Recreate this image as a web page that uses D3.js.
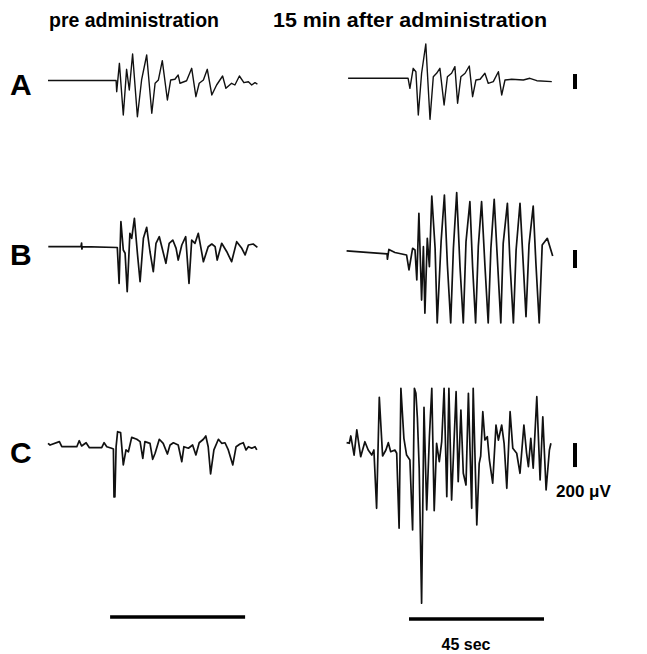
<!DOCTYPE html>
<html>
<head>
<meta charset="utf-8">
<script src="https://cdn.jsdelivr.net/npm/d3@7"></script>
<style>
  body { margin: 0; background: #fff; }
  text { font-family: "Liberation Sans", Arial, Helvetica, sans-serif; font-weight: bold; fill: #000; }
</style>
</head>
<body>
<script>
// EEG traces: [time (s), amplitude (µV)]
const rowLabels = ['A', 'B', 'C'];
const columnTitles = ['pre administration', '15 min after administration'];

const traceApre = [[0,0],[22.7,0],[22.9,-149],[23.8,229],[25.1,-460],[26.2,149],[27.1,-127],[28.2,353],[29.8,-483],[31.2,7],[32.9,340],[34.6,-437],[35.7,-37],[36.8,7],[38.1,264],[39.8,-260],[40.9,7],[42.3,16],[43.4,73],[44,-37],[46.2,-3],[47.9,163],[49.3,-216],[50.4,-37],[51.8,7],[53.1,149],[54.6,-193],[56.2,-60],[58.2,60],[59.3,-104],[61.2,-37],[62.3,-60],[63.8,60],[65.3,-29],[66.8,-16],[67.9,-60],[69,-29],[69.8,-47]];
const traceApost = [[0.7,0],[20.7,0],[21.3,-133],[22.4,133],[23.3,88],[24.1,-489],[25.2,67],[26.6,457],[28,-547],[29.1,21],[30.2,67],[31.3,133],[32.7,-356],[33.8,21],[35.2,67],[36.3,155],[37.2,-333],[38.3,21],[39.7,67],[41.1,164],[42.2,-245],[43.3,-23],[44.7,-13],[46.3,67],[47.4,-67],[49.1,-45],[50.8,88],[51.9,-223],[53,-23],[55.2,-13],[59.1,-23],[61.3,0],[63.6,-32],[68.6,-45]];

const traceBpre = [[0.1,0],[11,0],[11.2,41],[11.3,-26],[11.5,0],[23.1,-9],[23.7,-409],[24.3,278],[25.1,-37],[25.7,-73],[26.4,-500],[27.3,149],[27.9,93],[28.8,316],[29.8,-73],[30.7,-389],[31.8,93],[32.9,216],[34,-56],[35.1,-278],[36,38],[37.1,111],[38.2,-37],[39.3,-184],[40.4,38],[41.6,74],[42.7,-18],[43.4,-148],[44.6,19],[45.9,111],[47,-407],[47.9,74],[49,38],[50.1,149],[51.8,-167],[53.4,0],[54.6,30],[55.7,0],[56.4,-148],[57.9,38],[59.6,-56],[61.2,-167],[62.9,56],[64.6,-18],[65.7,-92],[66.8,19],[68.4,30],[69.8,-7]];
const traceBpost = [[0.2,20],[8,0],[13.7,-14],[13.8,-73],[14.3,36],[16.3,2],[20.2,-26],[21,-192],[22.2,49],[23,30],[23.6,-303],[24.3,438],[25.2,-526],[25.8,67],[26.3,-673],[27.1,160],[27.8,-156],[28.6,630],[29.7,49],[30.4,-781],[31.7,122],[32.8,641],[33.8,-137],[34.9,-781],[35.8,49],[36.9,667],[38,-156],[39.1,-781],[40,122],[41.3,567],[42.2,-156],[43.2,-781],[44.1,67],[45.2,567],[46.3,-137],[47.4,-781],[48.3,49],[49.4,593],[50.6,-156],[51.6,-781],[52.4,104],[53.8,549],[54.7,-137],[55.8,-781],[56.7,30],[58,549],[59.1,-137],[60,-711],[61,86],[62.4,519],[63.3,-118],[64.4,-781],[65.4,86],[67.1,160],[68.9,-37]];

const traceCpre = [[0,28],[0.7,14],[3.8,42],[4.6,0],[9.6,0],[10.4,50],[11.2,6],[12.7,33],[13.8,-8],[17.9,-8],[18.7,33],[19.6,0],[21.2,-13],[21.8,-19],[22,-419],[22.3,-419],[22.7,0],[23.2,125],[24.2,117],[25.1,-152],[26,-27],[26.8,-42],[27.9,78],[29.6,62],[30.7,42],[31.6,-97],[32.3,42],[34,28],[34.9,-105],[35.7,-55],[37.1,62],[38.4,28],[39.8,-61],[40.7,14],[41.8,33],[43.4,14],[44.6,-125],[45.3,0],[46.8,-13],[48.2,14],[49.3,-69],[50.4,33],[51.8,62],[52.6,89],[53.4,0],[54.2,-227],[55.3,-27],[56.8,62],[57.9,28],[59,33],[60.1,-27],[61.6,-152],[62.7,0],[64,22],[65.1,33],[66,-27],[66.8,0],[67.9,-13],[69,0],[69.6,-27]];
const traceCpost = [[0.2,61],[1.1,56],[1.6,117],[2.7,-42],[3.6,167],[4.9,-56],[6.3,69],[7.4,0],[8.6,-42],[9.3,0],[10.2,-486],[11.1,439],[12.2,-50],[13.3,0],[14.1,61],[14.9,-14],[16.3,0],[16.9,-27],[17.7,-652],[18.3,514],[19.3,97],[20.2,-42],[21.3,-83],[22.2,-666],[22.8,514],[23.3,472],[23.8,264],[24.4,-152],[25.2,-1277],[26,356],[26.9,-500],[27.8,111],[28.6,514],[29.4,-506],[30.2,56],[31.1,-97],[31.9,69],[32.7,514],[33.6,-389],[34.3,514],[35.2,-417],[36.7,486],[37.4,-264],[38.3,333],[39.1,-194],[40,-292],[40.8,472],[41.9,-486],[42.4,514],[43.6,-625],[44.4,-111],[44.9,-50],[45.6,319],[46.3,83],[47.1,111],[47.8,-83],[48.9,-277],[50,208],[50.8,83],[51.9,208],[52.7,56],[53.6,-319],[54.7,319],[55.6,14],[56.9,-27],[58,-194],[59.3,208],[60.2,-27],[60.8,-139],[61.6,97],[62.4,-152],[63.6,444],[64.7,-250],[65.6,277],[66.7,-333],[67.8,0],[68.3,56]];

// calibration: 200 µV bar per row (top of bar relative to baseline, µV)
const calibUV = 200;
const calibTop = [57, 30, 58];
// time scale bars (s)
const timeBarSec = 45;
const timeBarStart = [20.7, 21];

document.addEventListener('DOMContentLoaded', function() {
    const width = 647;
    const height = 654;

    const svg = d3.select('body').append('svg')
        .attr('width', width)
        .attr('height', height);

    // layout
    const pxPerSec = 3;
    const colX = [48, 346];
    const baselines = [[80.5, 78.3], [246.7, 252.7], [446.7, 450]];
    const pxPer200 = [15, 18, 24];
    const letterY = [95, 265, 463];
    const traces = [[traceApre, traceApost], [traceBpre, traceBpost], [traceCpre, traceCpost]];

    const xScales = colX.map(x0 => d3.scaleLinear().domain([0, 45]).range([x0, x0 + 45 * pxPerSec]));

    function yScaleFor(r, c) {
        const base = baselines[r][c];
        return d3.scaleLinear().domain([0, calibUV]).range([base, base - pxPer200[r]]);
    }

    // column titles
    const titleX = [49, 273];
    const titleW = [170, 274];
    svg.append('g').selectAll('text')
        .data(columnTitles)
        .enter().append('text')
        .attr('x', (d, i) => titleX[i])
        .attr('y', 27)
        .attr('font-size', 21)
        .attr('textLength', (d, i) => titleW[i])
        .attr('lengthAdjust', 'spacingAndGlyphs')
        .text(d => d);

    // row letters
    svg.append('g').selectAll('text')
        .data(rowLabels)
        .enter().append('text')
        .attr('x', 10)
        .attr('y', (d, i) => letterY[i])
        .attr('font-size', 30)
        .text(d => d);

    // traces
    traces.forEach((pair, r) => {
        pair.forEach((data, c) => {
            const x = xScales[c];
            const y = yScaleFor(r, c);
            const line = d3.line()
                .x(d => x(d[0]))
                .y(d => y(d[1]));
            svg.append('path')
                .datum(data)
                .attr('d', line)
                .attr('fill', 'none')
                .attr('stroke', '#111')
                .attr('stroke-width', r === 0 ? 1.4 : 1.7)
                .attr('stroke-linejoin', 'round');
        });
    });

    // calibration bars
    calibTop.forEach((top, r) => {
        const y = yScaleFor(r, 1);
        svg.append('rect')
            .attr('x', 573)
            .attr('width', 4)
            .attr('y', y(top))
            .attr('height', y(top - calibUV) - y(top))
            .attr('fill', '#000');
    });

    svg.append('text')
        .attr('x', 556)
        .attr('y', 497)
        .attr('font-size', 17)
        .text('200 \u03bcV');

    // time bars
    timeBarStart.forEach((t0, c) => {
        const x = xScales[c];
        svg.append('line')
            .attr('x1', x(t0))
            .attr('x2', x(t0 + timeBarSec))
            .attr('y1', c === 0 ? 617 : 619)
            .attr('y2', c === 0 ? 617 : 619)
            .attr('stroke', '#000')
            .attr('stroke-width', 3.5);
    });

    svg.append('text')
        .attr('x', xScales[1](timeBarStart[1] + 19))
        .attr('y', 650)
        .attr('text-anchor', 'middle')
        .attr('font-size', 16)
        .text(timeBarSec + ' sec');
});
</script>
</body>
</html>
